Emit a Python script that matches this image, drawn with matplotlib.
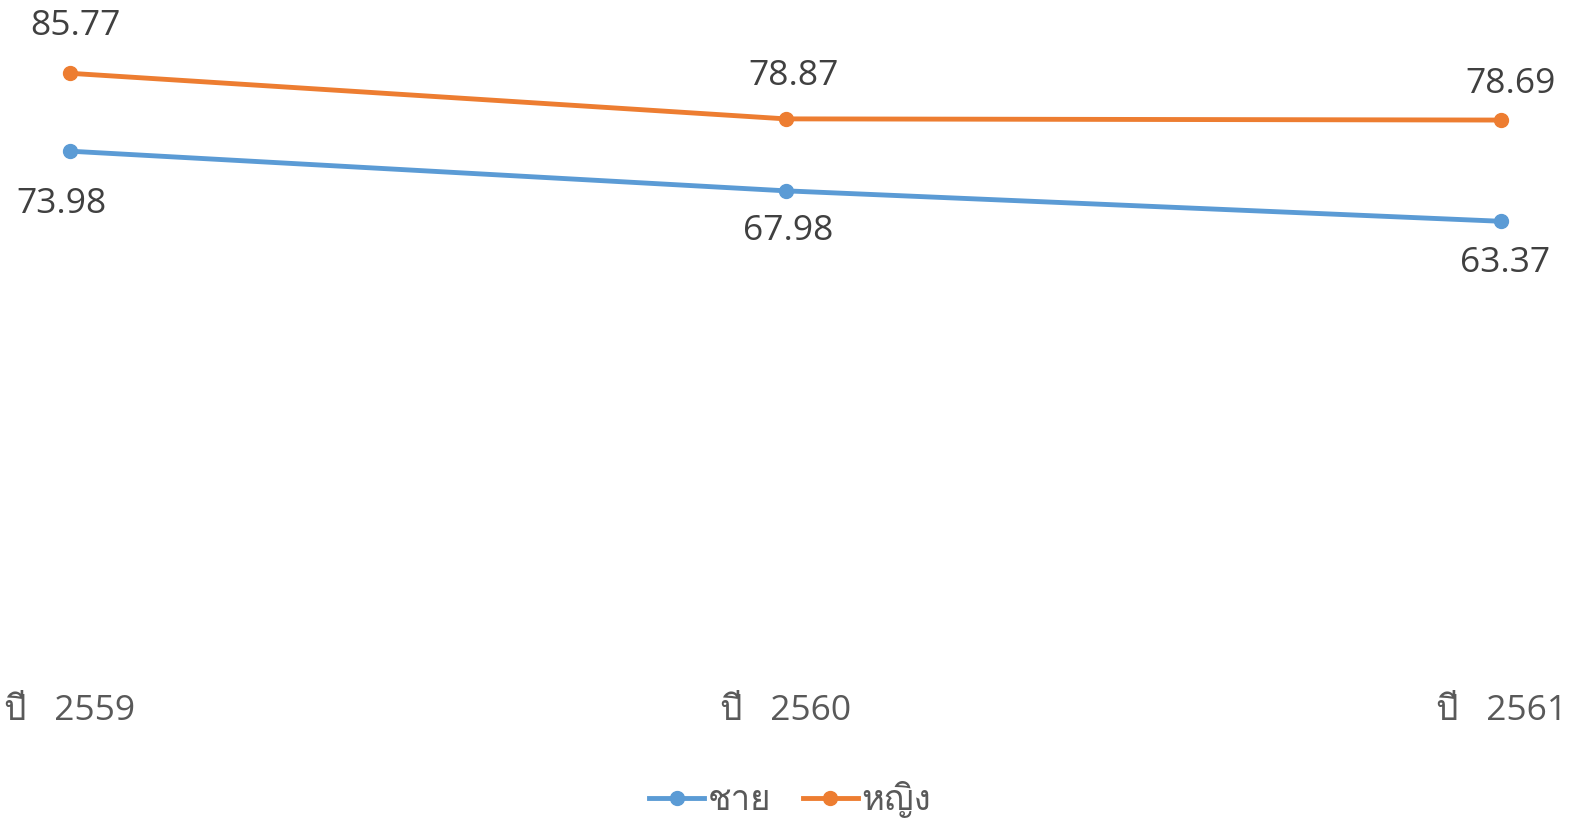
import matplotlib
matplotlib.use('Agg')
import matplotlib.pyplot as plt
from matplotlib import font_manager
from matplotlib.ft2font import FT2Font

# ─── Data ───
years = ['ปี   2559', 'ปี   2560', 'ปี   2561']
male = [73.98, 67.98, 63.37]
female = [85.77, 78.87, 78.69]
series_names = ['ชาย', 'หญิง']

# ─── Font: find something that can draw Thai ───
def find_thai_font():
    seen = set()
    for f in font_manager.fontManager.ttflist:
        if f.name in seen:
            continue
        seen.add(f.name)
        try:
            cmap = FT2Font(f.fname).get_charmap()
        except Exception:
            continue
        if 0x0E0A in cmap and 0x0E0D in cmap:
            return f.name
    return None

thai = find_thai_font()
families = ['Open Sans', 'DejaVu Sans']
if thai:
    families = ['Open Sans', thai, 'DejaVu Sans']
plt.rcParams['font.family'] = families

blue = '#5B9BD5'
orange = '#ED7D31'
txt = '#404040'

fig = plt.figure(figsize=(15.7, 8.26), dpi=100)
ax = fig.add_axes([70 / 1570, 1 - 640 / 826, (1501 - 70) / 1570, 640 / 826])

x = list(range(len(years)))
ax.plot(x, male, '-o', color=blue, lw=3.5, ms=10, label=series_names[0], clip_on=False)
ax.plot(x, female, '-o', color=orange, lw=3.5, ms=10, label=series_names[1], clip_on=False)

# data labels (offsets in points, roughly as in the original)
male_off = [(-6, -38), (2, -29), (3, -30)]
female_off = [(4, 34), (6, 31), (7, 26)]
for i in x:
    ax.annotate(f'{male[i]:.2f}', (i, male[i]), xytext=male_off[i], textcoords='offset points',
                ha='center', va='center', fontsize=25.5, color=txt)
    ax.annotate(f'{female[i]:.2f}', (i, female[i]), xytext=female_off[i], textcoords='offset points',
                ha='center', va='center', fontsize=25.5, color=txt)

ax.set_xlim(0, 2)
ax.set_ylim(0, 96.86)
ax.set_xticks(x)
ax.set_xticklabels(years, fontsize=25.5, color='#595959')
ax.tick_params(axis='x', length=0, pad=39)
ax.set_yticks([])
for s in ax.spines.values():
    s.set_visible(False)

fig.legend(loc='center', bbox_to_anchor=(790 / 1570, 1 - 800 / 826), ncol=2, frameon=False,
           fontsize=25, handlelength=1.6, handletextpad=0.1, columnspacing=0.9,
           labelcolor='#595959')

plt.savefig('out.png', dpi=100)
